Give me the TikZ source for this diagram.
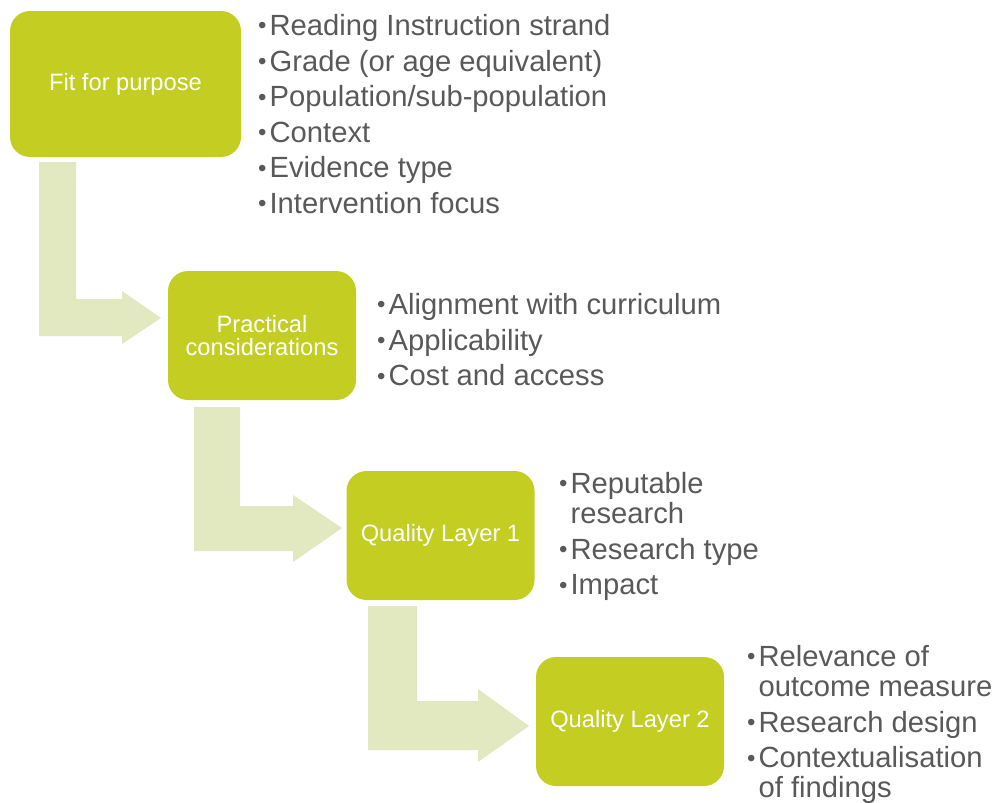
\documentclass[tikz,border=0pt]{standalone}
\usepackage{fontspec}
\setmainfont{Liberation Sans}
\definecolor{boxgreen}{RGB}{196,206,34}
\definecolor{arrowgreen}{RGB}{226,232,192}
\definecolor{txtgrey}{RGB}{89,89,89}
\newcommand{\blt}{{\fontsize{24}{24}\selectfont\raisebox{1.5pt}{•}}}
\tikzset{
  stagebox/.style={fill=boxgreen, rounded corners=20, text=white,
    font=\fontsize{23.7}{23.5}\selectfont, align=center, inner sep=0,
    minimum width=188, minimum height=129},
  bentarrow/.style={fill=arrowgreen},
  bullets/.style={text=txtgrey, font=\fontsize{29.2}{30}\selectfont,
    anchor=north west, inner sep=0, align=left}
}
\begin{document}
\begin{tikzpicture}[x=1pt,y=-1pt]
\useasboundingbox (0,0) rectangle (997,803);

% bent block arrows
\fill[bentarrow] (39,162) -- (76,162) -- (76,299) -- (122,299) -- (122,291)
  -- (161,318) -- (122,344) -- (122,336) -- (39,336) -- cycle;
\fill[bentarrow] (194,407) -- (240,407) -- (240,506) -- (293,506) -- (293,495)
  -- (342,528) -- (293,562) -- (293,551) -- (194,551) -- cycle;
\fill[bentarrow] (368,606) -- (417,606) -- (417,701) -- (478,701) -- (478,689)
  -- (529,726) -- (478,762) -- (478,750) -- (368,750) -- cycle;

% stage boxes
\node[stagebox, minimum width=231, minimum height=146] (b1) at (125.5,84) {Fit for purpose};
\node[stagebox] (b2) at (262,335.5) {Practical\\considerations};
\node[stagebox] (b3) at (440.5,535.5) {Quality Layer 1};
\node[stagebox] (b4) at (630,721.5) {Quality Layer 2};

% bullet lists
\node[bullets] (t1) at (258,14) {\begin{tabular}{@{}l@{\hspace{3pt}}l@{}}
\blt&Reading Instruction strand\\[5.5pt]
\blt&Grade (or age equivalent)\\[5.5pt]
\blt&Population/sub-population\\[5.5pt]
\blt&Context\\[5.5pt]
\blt&Evidence type\\[5.5pt]
\blt&Intervention focus
\end{tabular}};
\node[bullets] (t2) at (377,293) {\begin{tabular}{@{}l@{\hspace{3pt}}l@{}}
\blt&Alignment with curriculum\\[5.5pt]
\blt&Applicability\\[5.5pt]
\blt&Cost and access
\end{tabular}};
\node[bullets] (t3) at (559,472) {\begin{tabular}{@{}l@{\hspace{3pt}}l@{}}
\blt&Reputable\\
&research\\[5.5pt]
\blt&Research type\\[5.5pt]
\blt&Impact
\end{tabular}};
\node[bullets] (t4) at (747,645) {\begin{tabular}{@{}l@{\hspace{3pt}}l@{}}
\blt&Relevance of\\
&outcome measure\\[5.5pt]
\blt&Research design\\[5.5pt]
\blt&Contextualisation\\
&of findings
\end{tabular}};
\end{tikzpicture}
\end{document}
